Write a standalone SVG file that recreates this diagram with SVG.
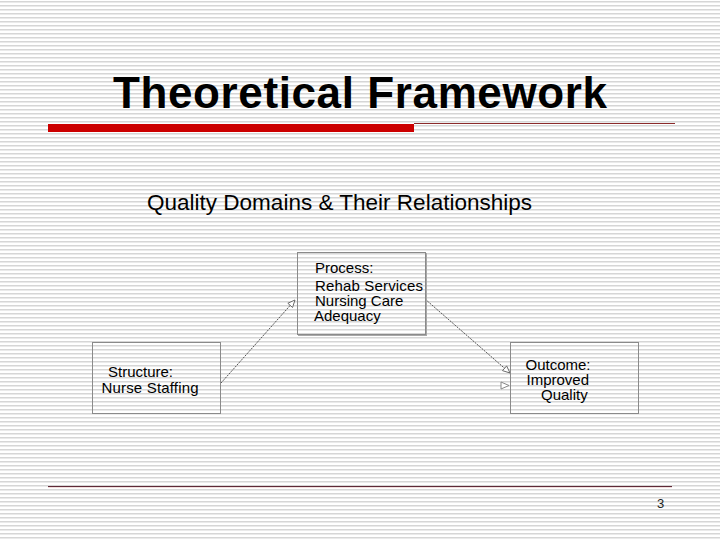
<svg xmlns="http://www.w3.org/2000/svg" width="720" height="540" viewBox="0 0 720 540">
<defs>
<pattern id="stripes" width="8" height="4" patternUnits="userSpaceOnUse">
<rect x="0" y="0" width="8" height="4" fill="#ffffff"/>
<rect x="0" y="1" width="8" height="1.5" fill="#d6d6d6"/>
</pattern>
<marker id="open" viewBox="0 0 10 10" refX="9" refY="5" markerWidth="9" markerHeight="9" orient="auto" markerUnits="userSpaceOnUse">
<path d="M1,1.5 L9,5 L1,8.5 Z" fill="#ffffff" stroke="#666666" stroke-width="1"/>
</marker>
</defs>
<style>
.box{fill:none;stroke:#8a8a8a;stroke-width:1}
.shadow{fill:none;stroke:#a8a8a8;stroke-width:2}
.lbl{font-family:"Liberation Sans",Arial,sans-serif;font-size:15px;fill:#000}
.conn{stroke:#555555;stroke-width:1;stroke-dasharray:2,1;fill:none}
</style>
<rect x="0" y="0" width="720" height="540" fill="url(#stripes)"/>
<text x="113" y="108" font-family="'Liberation Sans',Arial,sans-serif" font-weight="bold" font-size="44" textLength="494" fill="#000">Theoretical Framework</text>
<rect x="48" y="124" width="366" height="8" fill="#cc0000"/>
<line x1="414" y1="123.5" x2="675" y2="123.5" stroke="#8b2a2a" stroke-width="1"/>
<text x="147" y="210" font-family="'Liberation Sans',Arial,sans-serif" font-size="22.5" textLength="385" fill="#000">Quality Domains &amp; Their Relationships</text>
<g id="connectors">
<line class="conn" x1="221" y1="383" x2="295" y2="300" marker-end="url(#open)"/>
<line class="conn" x1="425" y1="299" x2="510" y2="373" marker-end="url(#open)"/>
<path d="M501,382 L509,385.5 L501,389 Z" fill="#ffffff" stroke="#888888" stroke-width="1"/>
</g>
<g id="process">
<path class="shadow" d="M298,335 L426,335 L426,253"/>
<rect class="box" x="297.5" y="252.5" width="128" height="82"/>
<text class="lbl" x="315" y="273">Process:</text>
<text class="lbl" x="315" y="290.5" textLength="108">Rehab Services</text>
<text class="lbl" x="315" y="305.5">Nursing Care</text>
<text class="lbl" x="314" y="320.5">Adequacy</text>
</g>
<g id="structure">
<rect class="box" x="92.5" y="342.5" width="128" height="71"/>
<text class="lbl" x="108" y="377">Structure:</text>
<text class="lbl" x="101.5" y="392.5" textLength="97">Nurse Staffing</text>
</g>
<g id="outcome">
<rect class="box" x="510.5" y="342.5" width="128" height="71"/>
<text class="lbl" x="525.5" y="370">Outcome:</text>
<text class="lbl" x="526.5" y="385">Improved</text>
<text class="lbl" x="541" y="400">Quality</text>
</g>
<line x1="48" y1="486.5" x2="672" y2="486.5" stroke="#5e2a38" stroke-width="1"/>
<line x1="48" y1="487.5" x2="672" y2="487.5" stroke="#f3dede" stroke-width="1"/>
<text x="657" y="508" font-family="'Liberation Sans',Arial,sans-serif" font-size="13" fill="#222">3</text>
</svg>
